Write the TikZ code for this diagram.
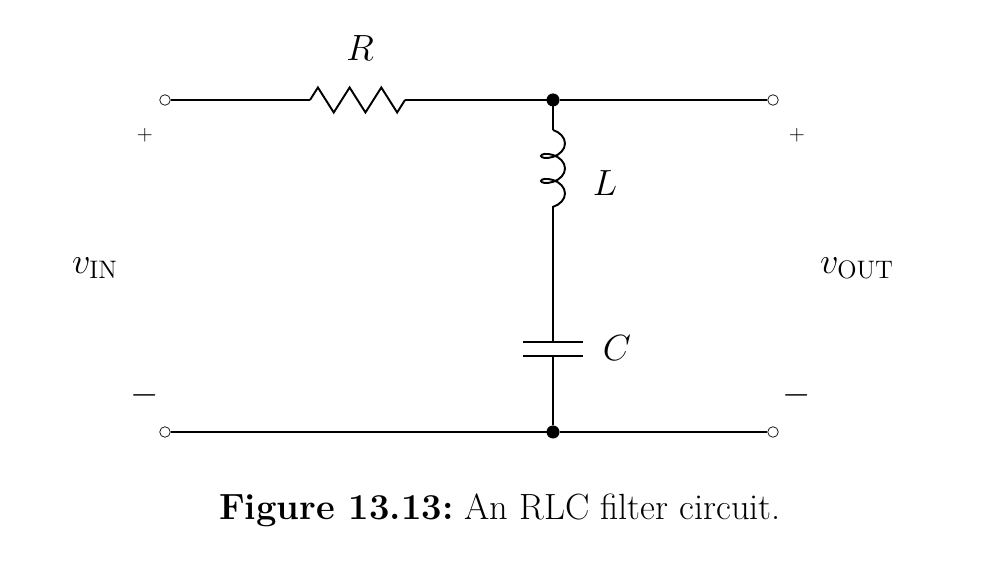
\documentclass[tikz,border=0pt]{standalone}
\usetikzlibrary{calc, decorations.pathmorphing}

\tikzset{
  term/.style={circle, draw, fill=white, inner sep=0pt, minimum size=6pt},
  junc/.style={circle, draw, fill=black, inner sep=0pt, minimum size=7pt},
  wire/.style={line width=0.7pt},
  part/.style={line width=1.1pt},
}

\begin{document}
\begin{tikzpicture}
\useasboundingbox (0,0) rectangle (20.12,11.56);

\node[term] (inA) at (3.3, 9.56) {};
\node[term] (inB) at (3.3, 2.92) {};
\node[term] (outA) at (15.46, 9.56) {};
\node[term] (outB) at (15.46, 2.92) {};
\node[junc] (top) at (11.06, 9.56) {};
\node[junc] (bot) at (11.06, 2.92) {};

\coordinate (R1) at (6.2, 9.56);
\coordinate (R2) at (8.1, 9.56);
\coordinate (L1) at (11.06, 8.96);
\coordinate (L2) at (11.06, 6.96);
\coordinate (C1) at (11.06, 4.72);
\coordinate (C2) at (11.06, 4.44);

% top wire with resistor
\draw[wire] (inA) -- (R1);
\draw[part] (R1)
  -- ++(0.158,0.25) -- ++(0.317,-0.5) -- ++(0.317,0.5) -- ++(0.317,-0.5)
  -- ++(0.317,0.5) -- ++(0.317,-0.5) -- (R2);
\draw[wire] (R2) -- (top) -- (outA);
% inductor
\draw[wire] (top) -- (L1);
\draw[part, decorate, decoration={coil, aspect=0.6, segment length=0.5cm, amplitude=0.24cm}] (L1) -- (L2);
% capacitor
\draw[wire] (L2) -- (C1);
\draw[part] ($(C1)+(-0.6,0)$) -- ($(C1)+(0.6,0)$);
\draw[part] ($(C2)+(-0.6,0)$) -- ($(C2)+(0.6,0)$);
\draw[wire] (C2) -- (bot);
% bottom wire
\draw[wire] (inB) -- (bot) -- (outB);

\node (labR) at (7.2, 10.6) {\huge $R$};
\node (labL) at (12.1, 7.9) {\huge $L$};
\node (labC) at (12.34, 4.6) {\huge $C$};
\node (pin) at (2.9, 8.86) {\large $+$};
\node (min) at (2.9, 3.66) {\huge $-$};
\node (vin) at (1.9, 6.2) {\huge $v_{\mathrm{IN}}$};
\node (pout) at (15.94, 8.86) {\large $+$};
\node (mout) at (15.94, 3.66) {\huge $-$};
\node (vout) at (17.14, 6.2) {\huge $v_{\mathrm{OUT}}$};

\node (cap) at (10.0, 1.36) {\huge \textbf{Figure 13.13:}\ An RLC filter circuit.};
\end{tikzpicture}
\end{document}
